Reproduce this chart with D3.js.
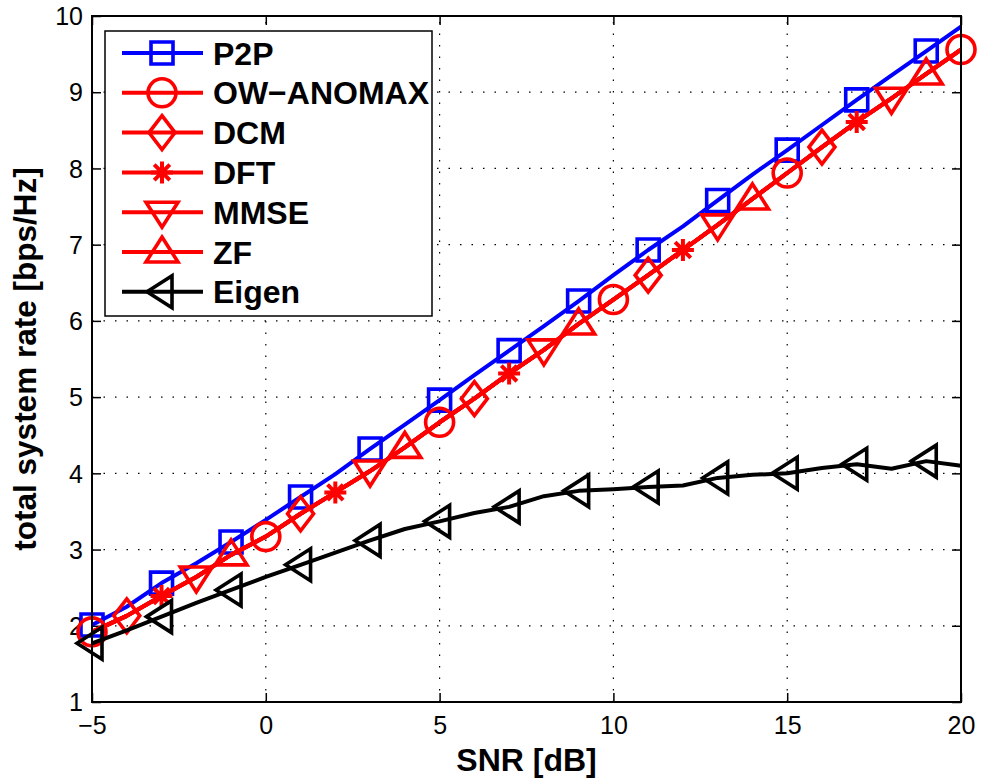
<!DOCTYPE html>
<html>
<head>
<meta charset="utf-8">
<script src="https://cdn.jsdelivr.net/npm/d3@7"></script>
<style>
  body { margin: 0; background: #fff; }
  text { font-family: "Liberation Sans", Arial, Helvetica, sans-serif; }
</style>
</head>
<body>
<div id="chart"></div>
<script>
// SNR grid (dB)
var snr = [-5, -4, -3, -2, -1, 0, 1, 2, 3, 4, 5, 6, 7, 8, 9, 10, 11, 12, 13, 14, 15, 16, 17, 18, 19, 20];

// total system rate [bps/Hz]
var p2p      = [2.01, 2.25, 2.56, 2.82, 3.10, 3.39, 3.69, 3.99, 4.32, 4.64, 4.96, 5.29, 5.61, 5.93, 6.26, 6.60, 6.93, 7.24, 7.58, 7.92, 8.24, 8.57, 8.90, 9.22, 9.54, 9.86];
var owAnomax = [1.92, 2.13, 2.39, 2.64, 2.93, 3.17, 3.47, 3.75, 4.03, 4.34, 4.67, 4.98, 5.31, 5.62, 5.96, 6.28, 6.60, 6.93, 7.26, 7.60, 7.94, 8.28, 8.61, 8.92, 9.24, 9.56];
var dcm      = [1.92, 2.13, 2.39, 2.64, 2.93, 3.17, 3.47, 3.75, 4.03, 4.34, 4.67, 4.98, 5.31, 5.62, 5.96, 6.28, 6.60, 6.93, 7.26, 7.60, 7.94, 8.28, 8.61, 8.92, 9.24, 9.56];
var dft      = [1.92, 2.13, 2.39, 2.64, 2.93, 3.17, 3.47, 3.75, 4.03, 4.34, 4.67, 4.98, 5.31, 5.62, 5.96, 6.28, 6.60, 6.93, 7.26, 7.60, 7.94, 8.28, 8.61, 8.92, 9.24, 9.56];
var mmse     = [1.92, 2.13, 2.39, 2.64, 2.93, 3.17, 3.47, 3.75, 4.03, 4.34, 4.67, 4.98, 5.31, 5.62, 5.96, 6.28, 6.60, 6.93, 7.26, 7.60, 7.94, 8.28, 8.61, 8.92, 9.24, 9.56];
var zf       = [1.92, 2.13, 2.39, 2.64, 2.93, 3.17, 3.47, 3.75, 4.03, 4.34, 4.67, 4.98, 5.31, 5.62, 5.96, 6.28, 6.60, 6.93, 7.26, 7.60, 7.94, 8.28, 8.61, 8.92, 9.24, 9.56];
var eigen    = [1.77, 1.94, 2.12, 2.30, 2.47, 2.64, 2.80, 2.96, 3.12, 3.27, 3.37, 3.48, 3.56, 3.70, 3.77, 3.79, 3.82, 3.84, 3.94, 3.98, 4.00, 4.07, 4.12, 4.06, 4.16, 4.10];

var seriesNames = ['P2P', 'OW\u2212ANOMAX', 'DCM', 'DFT', 'MMSE', 'ZF', 'Eigen'];
var xTicks = [-5, 0, 5, 10, 15, 20];
var yTicks = [1, 2, 3, 4, 5, 6, 7, 8, 9, 10];

var series = [
  {name: seriesNames[0], values: p2p,      color: '#0000ff', marker: 'square',   first: 0, step: 2},
  {name: seriesNames[1], values: owAnomax, color: '#ff0000', marker: 'circle',   first: 0, step: 5},
  {name: seriesNames[2], values: dcm,      color: '#ff0000', marker: 'diamond',  first: 1, step: 5},
  {name: seriesNames[3], values: dft,      color: '#ff0000', marker: 'asterisk', first: 2, step: 5},
  {name: seriesNames[4], values: mmse,     color: '#ff0000', marker: 'down',     first: 3, step: 5},
  {name: seriesNames[5], values: zf,       color: '#ff0000', marker: 'up',       first: 4, step: 5},
  {name: seriesNames[6], values: eigen,    color: '#000000', marker: 'left',     first: 0, step: 2}
];

var W = 981, H = 781;
var axL = 92, axR = 961, axT = 16, axB = 702;
var LINE_W = 4, MARK_W = 3.6;

var x = d3.scaleLinear().domain([-5, 20]).range([axL, axR]);
var y = d3.scaleLinear().domain([1, 10]).range([axB, axT]);

var svg = d3.select('#chart').append('svg')
    .attr('width', W)
    .attr('height', H);

svg.append('rect').attr('width', W).attr('height', H).attr('fill', '#fff');

// dotted grid
var grid = svg.append('g').attr('stroke', '#000').attr('stroke-width', 1.2)
    .attr('stroke-dasharray', '1.5,10');
grid.selectAll('line.gx').data(xTicks.slice(1, -1)).enter().append('line')
    .attr('x1', function(d) { return x(d); }).attr('x2', function(d) { return x(d); })
    .attr('y1', axB).attr('y2', axT);
grid.selectAll('line.gy').data(yTicks.slice(1, -1)).enter().append('line')
    .attr('y1', function(d) { return y(d); }).attr('y2', function(d) { return y(d); })
    .attr('x1', axL).attr('x2', axR);

// axes (ticks inside, on all four sides)
var TICK = 9;
function styleTicks(g) {
  g.select('.domain').remove();
  g.selectAll('line').attr('stroke', '#000').attr('stroke-width', 1.5);
  g.attr('font-family', null);
}
svg.append('g').attr('transform', 'translate(0,' + axB + ')')
    .call(d3.axisBottom(x).tickValues(xTicks).tickSizeInner(-TICK).tickSizeOuter(0)
      .tickFormat(function(d) { return d < 0 ? '\u2212' + Math.abs(d) : d; }))
    .call(styleTicks)
    .call(function(g) {
      g.selectAll('text').attr('font-size', 25).attr('fill', '#000').attr('dy', null).attr('y', 32);
    });
svg.append('g').attr('transform', 'translate(0,' + axT + ')')
    .call(d3.axisTop(x).tickValues(xTicks).tickSizeInner(-TICK).tickSizeOuter(0).tickFormat(''))
    .call(styleTicks);
svg.append('g').attr('transform', 'translate(' + axL + ',0)')
    .call(d3.axisLeft(y).tickValues(yTicks).tickSizeInner(-TICK).tickSizeOuter(0))
    .call(styleTicks)
    .call(function(g) {
      g.selectAll('text').attr('font-size', 25).attr('fill', '#000').attr('x', -9).attr('dy', '0.35em');
    });
svg.append('g').attr('transform', 'translate(' + axR + ',0)')
    .call(d3.axisRight(y).tickValues(yTicks).tickSizeInner(-TICK).tickSizeOuter(0).tickFormat(''))
    .call(styleTicks);

// marker shapes, centred on (0,0)
function markerPath(type) {
  switch (type) {
    case 'square':   return 'M-11,-11H11V11H-11Z';
    case 'diamond':  return 'M0,-17L13,0L0,17L-13,0Z';
    case 'up':       return 'M0,-15L16,10L-16,10Z';
    case 'down':     return 'M0,15L16,-10L-16,-10Z';
    case 'left':     return 'M-15,0L10,-16L10,16Z';
    case 'asterisk': return 'M0,-11V11M-11,0H11M-7.8,-7.8L7.8,7.8M-7.8,7.8L7.8,-7.8';
  }
  return '';
}

function drawMarker(g, s, cx, cy) {
  if (s.marker === 'circle') {
    g.append('circle').attr('cx', cx).attr('cy', cy).attr('r', 14)
        .attr('fill', 'none').attr('stroke', s.color).attr('stroke-width', MARK_W);
  } else {
    g.append('path').attr('d', markerPath(s.marker))
        .attr('transform', 'translate(' + cx + ',' + cy + ')')
        .attr('fill', 'none').attr('stroke', s.color)
        .attr('stroke-width', s.marker === 'asterisk' ? 4 : MARK_W)
        .attr('stroke-linejoin', 'miter');
  }
}

var line = d3.line()
    .x(function(d) { return x(d[0]); })
    .y(function(d) { return y(d[1]); });

var plot = svg.append('g');
series.forEach(function(s) {
  var pts = snr.map(function(v, i) { return [v, s.values[i]]; });
  var g = plot.append('g');
  g.append('path').datum(pts).attr('d', line)
      .attr('fill', 'none').attr('stroke', s.color).attr('stroke-width', LINE_W)
      .attr('stroke-linejoin', 'round');
  for (var i = s.first; i < pts.length; i += s.step) {
    drawMarker(g, s, x(pts[i][0]), y(pts[i][1]));
  }
});

// box
svg.append('rect').attr('x', axL).attr('y', axT)
    .attr('width', axR - axL).attr('height', axB - axT)
    .attr('fill', 'none').attr('stroke', '#000').attr('stroke-width', 2);

// legend
var lg = svg.append('g');
lg.append('rect').attr('x', 105).attr('y', 31).attr('width', 327).attr('height', 285)
    .attr('fill', '#fff').attr('stroke', '#000').attr('stroke-width', 1.5);
series.forEach(function(s, i) {
  var ly = 53 + i * 39.8;
  var g = lg.append('g');
  g.append('line').attr('x1', 122).attr('x2', 203).attr('y1', ly).attr('y2', ly)
      .attr('stroke', s.color).attr('stroke-width', LINE_W);
  drawMarker(g, s, 162, ly);
  g.append('text').attr('x', 213).attr('y', ly).attr('dy', '0.36em')
      .attr('font-size', 32).attr('font-weight', 'bold').attr('fill', '#000')
      .text(s.name);
});

// axis labels
svg.append('text').attr('x', (axL + axR) / 2).attr('y', 771)
    .attr('text-anchor', 'middle').attr('font-size', 32).attr('font-weight', 'bold')
    .text('SNR [dB]');
svg.append('text').attr('transform', 'translate(36,' + (axT + axB) / 2 + ') rotate(-90)')
    .attr('text-anchor', 'middle').attr('font-size', 31.5).attr('font-weight', 'bold')
    .text('total system rate [bps/Hz]');
</script>
</body>
</html>
